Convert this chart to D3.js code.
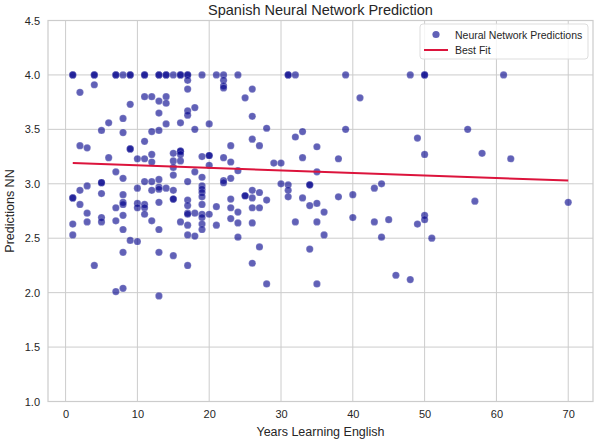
<!DOCTYPE html>
<html>
<head>
<meta charset="utf-8">
<script src="https://cdn.jsdelivr.net/npm/d3@7"></script>
<style>
  body { margin: 0; background: #fff; }
  text { font-family: "Liberation Sans", Arial, sans-serif; }
</style>
</head>
<body>
<svg id="chart"></svg>
<script>
// years learning english -> NN prediction, grouped by year
var yearGroups = [1, 2, 3, 4, 5, 6, 7, 8, 9, 10, 11, 12, 13, 14, 15, 16, 17, 18, 19, 20,
  21, 22, 23, 24, 25, 26, 27, 28, 29, 30, 31, 32, 33, 34, 35, 36, 38, 39, 40, 41,
  43, 44, 45, 46, 48, 49, 50, 51, 56, 57, 58, 61, 62, 70];

var predictionGroups = [
  [4.0, 4.0, 2.87, 2.87, 2.63, 2.53],
  [3.84, 3.35, 2.94, 2.81],
  [3.33, 2.98, 2.73, 2.65],
  [4.0, 4.0, 3.91, 2.25],
  [3.49, 3.01, 3.01, 2.91, 2.69, 2.65],
  [3.56, 3.24],
  [4.0, 4.0, 3.11, 2.78, 2.66, 2.01],
  [4.0, 3.60, 3.47, 3.05, 2.90, 2.83, 2.81, 2.71, 2.58, 2.37, 2.04],
  [4.0, 4.0, 3.73, 3.32, 3.32, 2.48],
  [3.23, 2.96, 2.82, 2.78, 2.47],
  [4.0, 4.0, 3.80, 3.39, 3.23, 3.02, 2.81, 2.78, 2.72],
  [3.80, 3.48, 3.27, 3.20, 3.02, 2.94, 2.66],
  [4.0, 4.0, 3.76, 3.65, 3.49, 3.04, 2.97, 2.95, 2.83, 2.58, 2.37, 1.97],
  [4.0, 4.0, 3.80, 3.74, 3.55, 2.96],
  [4.0, 3.28, 3.21, 3.15, 3.08, 2.94, 2.86, 2.86, 2.34],
  [4.0, 4.0, 3.56, 3.30, 3.30, 3.27, 3.21, 2.65],
  [4.0, 4.0, 3.95, 3.87, 3.67, 3.63, 3.02, 2.85, 2.80, 2.73, 2.72, 2.62, 2.53, 2.25],
  [3.70, 3.50, 3.11, 2.73, 2.52],
  [4.0, 3.25, 3.06, 2.98, 2.95, 2.92, 2.88, 2.81, 2.72, 2.69, 2.63, 2.58],
  [3.55, 3.26, 3.26, 3.17, 2.72],
  [4.0, 2.79, 2.62],
  [4.0, 3.95, 3.90, 3.88, 3.24, 3.03, 3.01],
  [3.35, 3.20, 3.05, 2.86, 2.78, 2.68],
  [4.0, 3.12, 2.74, 2.64, 2.51],
  [3.79, 2.89, 2.89],
  [3.87, 3.62, 3.41, 2.94, 2.87, 2.78, 2.64, 2.27],
  [3.35, 2.92, 2.78, 2.42],
  [3.51, 2.85, 2.08],
  [3.19],
  [3.19, 3.00],
  [4.0, 4.0, 2.99, 2.94, 2.88],
  [4.0, 3.43, 2.65],
  [3.48, 3.24, 2.87],
  [2.99, 2.99, 2.80, 2.40],
  [3.34, 3.11, 2.82, 2.65, 2.08],
  [2.74, 2.53],
  [3.23, 2.88],
  [4.0, 3.50],
  [2.90, 2.69],
  [3.79],
  [2.96, 2.65],
  [3.00, 2.51],
  [2.67],
  [2.16],
  [4.0, 2.12],
  [3.42, 2.63],
  [4.0, 4.0, 3.27, 2.71, 2.67],
  [2.50],
  [3.50],
  [2.84],
  [3.28],
  [4.0],
  [3.23],
  [2.83]
];

var fitYears = [1, 70];
var fitValues = [3.19, 3.03];

var xTicks = [0, 10, 20, 30, 40, 50, 60, 70];
var yTicks = [1.0, 1.5, 2.0, 2.5, 3.0, 3.5, 4.0, 4.5];

var width = 595, height = 440;
var margin = {top: 20.5, right: 2, bottom: 38.5, left: 48};

var svg = d3.select("#chart")
    .attr("width", width)
    .attr("height", height);

var points = [];
yearGroups.forEach(function(yr, i) {
  predictionGroups[i].forEach(function(v) {
    points.push({x: yr, y: v});
  });
});

var x = d3.scaleLinear()
    .domain([-2.45, 73.45])
    .range([margin.left, width - margin.right]);

var y = d3.scaleLinear()
    .domain([1.0, 4.5])
    .range([height - margin.bottom, margin.top]);

var grid = "#cccccc";

// gridlines
svg.append("g")
    .selectAll("line")
    .data(xTicks)
    .enter().append("line")
    .attr("x1", function(d) { return x(d); })
    .attr("x2", function(d) { return x(d); })
    .attr("y1", margin.top)
    .attr("y2", height - margin.bottom)
    .attr("stroke", grid)
    .attr("stroke-width", 1);

svg.append("g")
    .selectAll("line")
    .data(yTicks)
    .enter().append("line")
    .attr("x1", margin.left)
    .attr("x2", width - margin.right)
    .attr("y1", function(d) { return y(d); })
    .attr("y2", function(d) { return y(d); })
    .attr("stroke", grid)
    .attr("stroke-width", 1);

// frame
svg.append("rect")
    .attr("x", margin.left)
    .attr("y", margin.top)
    .attr("width", width - margin.left - margin.right)
    .attr("height", height - margin.top - margin.bottom)
    .attr("fill", "none")
    .attr("stroke", grid)
    .attr("stroke-width", 1.2);

// axes (labels only, seaborn whitegrid has no tick marks)
var xAxis = svg.append("g")
    .attr("transform", "translate(0," + (height - margin.bottom) + ")")
    .call(d3.axisBottom(x).tickValues(xTicks).tickSize(0).tickPadding(9).tickFormat(d3.format("d")));

var yAxis = svg.append("g")
    .attr("transform", "translate(" + margin.left + ",0)")
    .call(d3.axisLeft(y).tickValues(yTicks).tickSize(0).tickPadding(8).tickFormat(d3.format(".1f")));

[xAxis, yAxis].forEach(function(a) {
  a.select(".domain").remove();
  a.selectAll("text")
    .attr("fill", "#262626")
    .style("font-size", "11px")
    .style("font-family", "'Liberation Sans', Arial, sans-serif");
});

// points
svg.append("g")
    .selectAll("circle")
    .data(points)
    .enter().append("circle")
    .attr("cx", function(d) { return x(d.x); })
    .attr("cy", function(d) { return y(d.y); })
    .attr("r", 3.6)
    .attr("fill", "#00008b")
    .attr("fill-opacity", 0.62)
    .attr("stroke", "#ffffff")
    .attr("stroke-opacity", 0.35)
    .attr("stroke-width", 0.5);

// best fit
svg.append("line")
    .attr("x1", x(fitYears[0]))
    .attr("y1", y(fitValues[0]))
    .attr("x2", x(fitYears[1]))
    .attr("y2", y(fitValues[1]))
    .attr("stroke", "crimson")
    .attr("stroke-width", 2);

// title and labels
svg.append("text")
    .attr("x", (margin.left + width - margin.right) / 2)
    .attr("y", 15)
    .attr("text-anchor", "middle")
    .attr("fill", "#262626")
    .style("font-size", "14.5px")
    .text("Spanish Neural Network Prediction");

svg.append("text")
    .attr("x", (margin.left + width - margin.right) / 2)
    .attr("y", 436)
    .attr("text-anchor", "middle")
    .attr("fill", "#262626")
    .style("font-size", "12.5px")
    .text("Years Learning English");

svg.append("text")
    .attr("transform", "translate(14," + ((margin.top + height - margin.bottom) / 2) + ") rotate(-90)")
    .attr("text-anchor", "middle")
    .attr("fill", "#262626")
    .style("font-size", "12.5px")
    .text("Predictions NN");

// legend
var legend = svg.append("g").attr("transform", "translate(420,24)");
legend.append("rect")
    .attr("width", 168)
    .attr("height", 35)
    .attr("rx", 3)
    .attr("fill", "#ffffff")
    .attr("fill-opacity", 0.8)
    .attr("stroke", "#dddddd");
legend.append("circle")
    .attr("cx", 16).attr("cy", 10.5).attr("r", 3.6)
    .attr("fill", "#00008b").attr("fill-opacity", 0.62);
legend.append("text")
    .attr("x", 35).attr("y", 14.5)
    .attr("fill", "#262626")
    .style("font-size", "10.5px")
    .text("Neural Network Predictions");
legend.append("line")
    .attr("x1", 4).attr("x2", 28)
    .attr("y1", 26).attr("y2", 26)
    .attr("stroke", "crimson").attr("stroke-width", 2);
legend.append("text")
    .attr("x", 35).attr("y", 30)
    .attr("fill", "#262626")
    .style("font-size", "10.5px")
    .text("Best Fit");
</script>
</body>
</html>
